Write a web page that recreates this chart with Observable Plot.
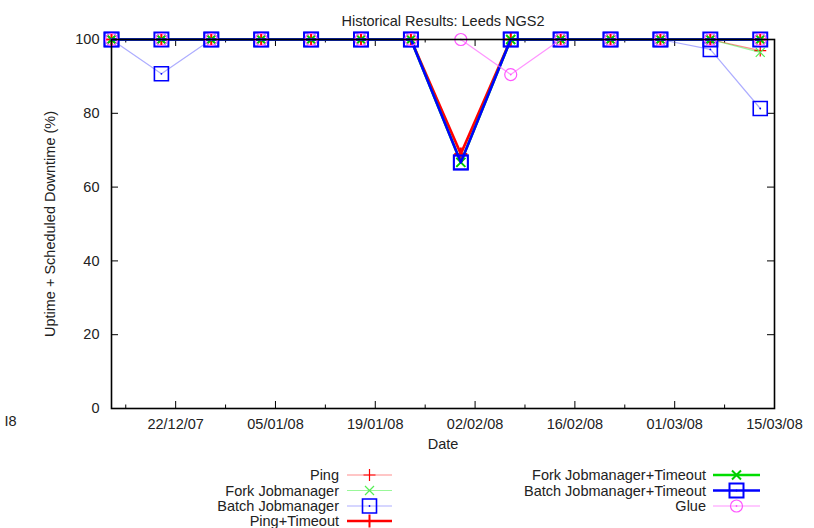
<!DOCTYPE html>
<html><head><meta charset="utf-8">
<script src="https://cdn.jsdelivr.net/npm/d3@7"></script>
<script src="https://cdn.jsdelivr.net/npm/@observablehq/plot@0.6"></script>
<style>
body{margin:0;background:#fff;}
#wrap{position:relative;width:814px;height:528px;overflow:hidden;font-family:"Liberation Sans",Arial,sans-serif;}
#wrap svg{position:absolute;left:0;}
</style></head><body><div id="wrap"></div>
<script>
// ---- data ----
const dates = ["2007-12-13","2007-12-20","2007-12-27","2008-01-03","2008-01-10","2008-01-17","2008-01-24",
               "2008-01-31","2008-02-07","2008-02-14","2008-02-21","2008-02-28","2008-03-06","2008-03-13"];
const seriesNames = ["Ping","Fork Jobmanager","Batch Jobmanager","Ping+Timeout",
                     "Fork Jobmanager+Timeout","Batch Jobmanager+Timeout","Glue"];
const ping         = [100,100,100,100,100,100,100,69,100,100,100,100,100,97];
const forkJm       = [100,100,100,100,100,100,100,66.7,100,100,100,100,100,96.5];
const batchJm      = [100,90.7,100,100,100,100,100,66.7,100,100,100,100,97.3,81.3];
const pingTimeout  = [100,100,100,100,100,100,100,69,100,100,100,100,100,100];
const forkTimeout  = [100,100,100,100,100,100,100,66.7,100,100,100,100,100,100];
const batchTimeout = [100,100,100,100,100,100,100,66.7,100,100,100,100,100,100];
const glue         = [100,100,100,100,100,100,100,100,90.5,100,100,100,100,100];
const xMajorTicks = ["2007-12-22","2008-01-05","2008-01-19","2008-02-02","2008-02-16","2008-03-01","2008-03-15"];
const xMinorTicks = ["2007-12-15","2007-12-29","2008-01-12","2008-01-26","2008-02-09","2008-02-23","2008-03-08"];
const yTicks = [0,20,40,60,80,100];
const title = "Historical Results: Leeds NGS2";
const xLabel = "Date";
const yLabel = "Uptime + Scheduled Downtime (%)";

const valueLists = [ping, forkJm, batchJm, pingTimeout, forkTimeout, batchTimeout, glue];
const parse = d3.utcParse("%Y-%m-%d");
const rows = seriesNames.map((s, i) => dates.map((d, j) => ({series: s, date: parse(d), value: valueLists[i][j]})));

// ---- symbols (r = half extent) ----
const symPlus = {draw(c, size){const h=Math.sqrt(size/Math.PI); c.moveTo(-h,0);c.lineTo(h,0);c.moveTo(0,-h);c.lineTo(0,h);}};
const symTimes = {draw(c, size){const h=Math.sqrt(size/Math.PI); c.moveTo(-h,-h);c.lineTo(h,h);c.moveTo(-h,h);c.lineTo(h,-h);}};
const symSquare = {draw(c, size){const h=Math.sqrt(size/Math.PI); c.rect(-h,-h,2*h,2*h);}};
const symCircle = {draw(c, size){const h=Math.sqrt(size/Math.PI); c.moveTo(h,0); c.arc(0,0,h,0,2*Math.PI);}};

const styles = [
  {line:"#ff0000", lw:1.2, lo:0.45, sym:symPlus,   r:6,   mc:"#ff0000", mw:1.2, dot:false},
  {line:"#00ee00", lw:1.2, lo:0.4,  sym:symTimes,  r:4.5, mc:"#55ee55", mw:1.2, dot:false},
  {line:"#3333ff", lw:1.2, lo:0.4,  sym:symSquare, r:7,   mc:"#0000ff", mw:1.6, dot:true},
  {line:"#ff0000", lw:2.6, lo:1,    sym:symPlus,   r:6.5, mc:"#ff0000", mw:2,   dot:false},
  {line:"#00dd00", lw:2.6, lo:1,    sym:symTimes,  r:4.5, mc:"#00cc00", mw:2,   dot:false},
  {line:"#0000ff", lw:2.6, lo:1,    sym:symSquare, r:7,   mc:"#0000ff", mw:2,   dot:true},
  {line:"#ff66ff", lw:1.2, lo:0.7,  sym:symCircle, r:6,   mc:"#ff55ff", mw:1.2, dot:true}
];

const FS = 14.5;
const W = 814, H = 460, mL = 111, mR = 40, mT = 39, mB = 52;
const pw = W - mL - mR, ph = H - mT - mB;

const marks = [];
rows.forEach((data, i) => {
  const s = styles[i];
  marks.push(Plot.line(data, {x:"date", y:"value", stroke:s.line, strokeWidth:s.lw, strokeOpacity:s.lo}));
  marks.push(Plot.dot(data, {x:"date", y:"value", symbol:s.sym, r:s.r, stroke:s.mc, fill:"none", strokeWidth:s.mw}));
  if (s.dot) marks.push(Plot.dot(data, {x:"date", y:"value", r:0.9, fill:s.mc, stroke:null}));
});

const maj = xMajorTicks.map(parse), mnr = xMinorTicks.map(parse);
const chart = Plot.plot({
  width: W, height: H, marginLeft: mL, marginRight: mR, marginTop: mT, marginBottom: mB,
  style: {fontFamily:'"Liberation Sans", Arial, sans-serif', fontSize: FS + "px", color:"#222", background:"transparent", overflow:"visible"},
  x: {type:"utc", domain:[parse("2007-12-13"), parse("2008-03-15")]},
  y: {domain:[0,100]},
  marks: [
    Plot.tickX(maj, {x:d=>d, insetTop: ph-7, stroke:"#000"}),
    Plot.tickX(maj, {x:d=>d, insetBottom: ph-7, stroke:"#000"}),
    Plot.tickX(mnr, {x:d=>d, insetTop: ph-3.5, stroke:"#000"}),
    Plot.tickX(mnr, {x:d=>d, insetBottom: ph-3.5, stroke:"#000"}),
    Plot.tickY(yTicks, {y:d=>d, insetRight: pw-7, stroke:"#000"}),
    Plot.tickY(yTicks, {y:d=>d, insetLeft: pw-7, stroke:"#000"}),
    ...marks,
    Plot.frame({stroke:"#000", strokeWidth:1.6}),
    Plot.axisX({ticks: maj, tickSize:0, tickPadding:10, tickFormat: d3.utcFormat("%d/%m/%y"), label:null, fontSize:FS}),
    Plot.axisY({ticks: yTicks, tickSize:0, tickPadding:12, label:null, fontSize:FS}),
    Plot.text([title], {frameAnchor:"top", dy:-24, fontSize:FS}),
    Plot.text([xLabel], {frameAnchor:"bottom", dy:40, fontSize:FS}),
    Plot.text([yLabel], {frameAnchor:"left", dx:-61, rotate:-90, textAnchor:"middle", fontSize:FS}),
    Plot.text(["I8"], {frameAnchor:"bottom-left", dx:-107, dy:17, textAnchor:"start", fontSize:FS})
  ]
});
chart.style.top = "0px";
const wrap = document.getElementById("wrap");
wrap.appendChild(chart);

// ---- legend ----
const lg = d3.select(wrap).append("svg").attr("width", W).attr("height", 68).style("top", H + "px")
  .style("font-family", '"Liberation Sans", Arial, sans-serif').style("font-size", FS + "px");
const rowY = [15, 30.5, 46, 61];
const cols = [{textX:339, x0:347, x1:392, idx:[0,1,2,3]}, {textX:706, x0:713, x1:760, idx:[4,5,6]}];
cols.forEach(col => {
  col.idx.forEach((si, k) => {
    const s = styles[si], y = rowY[k], cx = (col.x0 + col.x1) / 2;
    lg.append("text").attr("x", col.textX).attr("y", y).attr("dy", "0.35em").attr("text-anchor", "end")
      .attr("fill", "#222").text(seriesNames[si]);
    lg.append("line").attr("x1", col.x0).attr("x2", col.x1).attr("y1", y).attr("y2", y)
      .attr("stroke", s.line).attr("stroke-width", s.lw).attr("stroke-opacity", s.lo);
    lg.append("path").attr("transform", `translate(${cx},${y})`)
      .attr("d", d3.symbol(s.sym, Math.PI * s.r * s.r)())
      .attr("fill", "none").attr("stroke", s.mc).attr("stroke-width", s.mw);
    if (s.dot) lg.append("circle").attr("cx", cx).attr("cy", y).attr("r", 0.9).attr("fill", s.mc);
  });
});
</script></body></html>
